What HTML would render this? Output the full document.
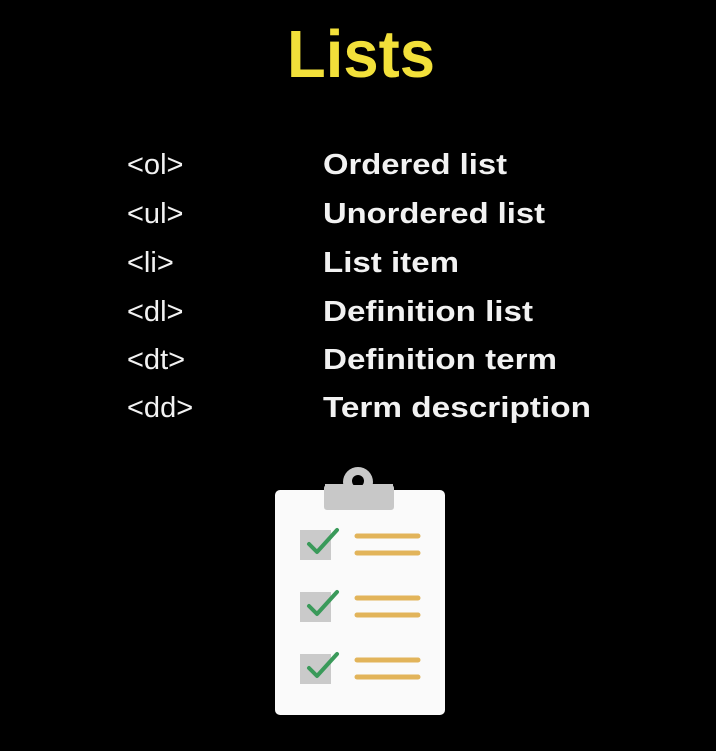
<!DOCTYPE html>
<html><head><style>html,body{margin:0;padding:0;background:#000;width:716px;height:751px;overflow:hidden}</style></head>
<body>
<svg width="716" height="751" xmlns="http://www.w3.org/2000/svg" style="display:block">
<rect width="716" height="751" fill="#000"/>
<text x="287" y="77" font-family="Liberation Sans, sans-serif" font-weight="bold" font-size="67" fill="#f2e03a" textLength="148" lengthAdjust="spacingAndGlyphs">Lists</text>
<g font-family="Liberation Sans, sans-serif" font-size="29" fill="#f2f2f2">
<text x="127" y="174">&lt;ol&gt;</text>
<text x="127" y="223">&lt;ul&gt;</text>
<text x="127" y="272">&lt;li&gt;</text>
<text x="127" y="321">&lt;dl&gt;</text>
<text x="127" y="369">&lt;dt&gt;</text>
<text x="127" y="417">&lt;dd&gt;</text>
</g>
<g font-family="Liberation Sans, sans-serif" font-weight="bold" font-size="29" fill="#f2f2f2">
<text x="323" y="174" textLength="184" lengthAdjust="spacingAndGlyphs">Ordered list</text>
<text x="323" y="223" textLength="222" lengthAdjust="spacingAndGlyphs">Unordered list</text>
<text x="323" y="272" textLength="136" lengthAdjust="spacingAndGlyphs">List item</text>
<text x="323" y="321" textLength="210" lengthAdjust="spacingAndGlyphs">Definition list</text>
<text x="323" y="369" textLength="234" lengthAdjust="spacingAndGlyphs">Definition term</text>
<text x="323" y="417" textLength="268" lengthAdjust="spacingAndGlyphs">Term description</text>
</g>
<rect x="275" y="490" width="170" height="225" rx="5" fill="#fafafa"/>
<path d="M347 480 a12 12 0 0 1 22 0 l0 0 M325 484 h68 v25 h-68 z" fill="#c8c8c8"/>
<circle cx="358" cy="482" r="15" fill="#c8c8c8"/>
<circle cx="358" cy="481" r="6" fill="#000"/>
<rect x="324" y="485" width="70" height="25" rx="3" fill="#c8c8c8"/>
<g>
<rect x="300" y="530" width="31" height="30" fill="#cacaca"/>
<rect x="300" y="592" width="31" height="30" fill="#cacaca"/>
<rect x="300" y="654" width="31" height="30" fill="#cacaca"/>
<g stroke="#3a9a5a" stroke-width="4" fill="none" stroke-linecap="round" stroke-linejoin="round">
<path d="M309 544 l8 8 l20 -22"/>
<path d="M309 606 l8 8 l20 -22"/>
<path d="M309 668 l8 8 l20 -22"/>
</g>
<g stroke="#e2b45a" stroke-width="5" stroke-linecap="round">
<line x1="357" y1="536" x2="418" y2="536"/><line x1="357" y1="553" x2="418" y2="553"/>
<line x1="357" y1="598" x2="418" y2="598"/><line x1="357" y1="615" x2="418" y2="615"/>
<line x1="357" y1="660" x2="418" y2="660"/><line x1="357" y1="677" x2="418" y2="677"/>
</g>
</g>
</svg>
</body></html>
